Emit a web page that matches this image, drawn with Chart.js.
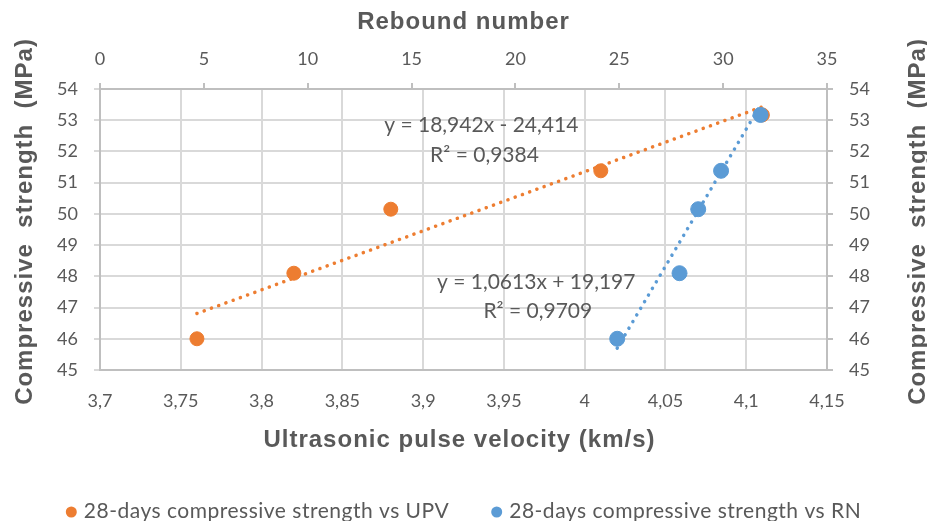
<!DOCTYPE html>
<html>
<head>
<meta charset="utf-8">
<script src="https://cdn.jsdelivr.net/npm/chart.js@4.4.1/dist/chart.umd.min.js"></script>
<style>
  html, body { margin: 0; padding: 0; background: #fff; }
  #wrap { width: 927px; height: 521px; }
</style>
</head>
<body>
<div id="wrap"><canvas id="chart" width="927" height="521"></canvas></div>
<script>
// Data
const upv = [3.76, 3.82, 3.88, 4.01, 4.11];          // km/s (bottom axis)
const rn = [24.9, 27.9, 28.8, 29.9, 31.8];           // rebound number (top axis)
const strength = [46.0, 48.1, 50.15, 51.38, 53.17];  // MPa
// trendline end points as drawn
const upvTrendX = [3.76, 4.11];
const upvTrendY = [46.81, 53.43];
const rnTrendX = [24.9, 31.7];
const rnTrendY = [45.7, 53.38];

const upvTicks = [3.7, 3.75, 3.8, 3.85, 3.9, 3.95, 4, 4.05, 4.1, 4.15];
const rnTicks = [0, 5, 10, 15, 20, 25, 30, 35];
const strengthTicks = [45, 46, 47, 48, 49, 50, 51, 52, 53, 54];

const ORANGE = "#ED7D31";
const BLUE = "#5B9BD5";
const GREY = "#595959";
const GRID = "#d9d9d9";
const FONT = "Lato, 'Open Sans', sans-serif";
const TITLE_FONT = "bold 24px 'Liberation Sans', Arial, sans-serif";

const fmt = (v) => String(Math.round(v * 100) / 100).replace(".", ",");
const zip = (xs, ys) => xs.map((x, i) => ({ x, y: ys[i] }));

// equation labels (anchored in data units of the UPV axis)
const eqLabels = [
  { x: 3.936, y: 52.85, text: "y = 18,942x - 24,414" },
  { x: 3.938, y: 51.89, text: "R² = 0,9384" },
  { x: 3.970, y: 47.82, text: "y = 1,0613x + 19,197" },
  { x: 3.971, y: 46.89, text: "R² = 0,9709" },
];

const legendItems = [
  { text: "28-days compressive strength vs UPV", color: ORANGE },
  { text: "28-days compressive strength vs RN", color: BLUE },
];

const axisTitles = {
  top: "Rebound number",
  bottom: "Ultrasonic pulse velocity (km/s)",
  left: "Compressive  strength  (MPa)",
  right: "Compressive  strength  (MPa)",
};

const textPlugin = {
  id: "texts",
  afterDatasetsDraw(chart) {
    const { ctx, scales } = chart;
    ctx.save();
    ctx.font = "21px " + FONT;
    ctx.fillStyle = GREY;
    ctx.textAlign = "center";
    ctx.textBaseline = "middle";
    eqLabels.forEach((l) => {
      ctx.fillText(l.text, scales.x.getPixelForValue(l.x), scales.y.getPixelForValue(l.y));
    });
    ctx.restore();
  },
  afterDraw(chart) {
    const { ctx, width, chartArea } = chart;
    const cx = (chartArea.left + chartArea.right) / 2;
    const cy = (chartArea.top + chartArea.bottom) / 2 - 8;

    // axis titles
    ctx.save();
    ctx.font = TITLE_FONT;
    ctx.letterSpacing = "1px";
    ctx.fillStyle = GREY;
    ctx.textAlign = "center";
    ctx.textBaseline = "middle";
    ctx.fillText(axisTitles.top, cx, 22);
    ctx.fillText(axisTitles.bottom, cx - 4, 440);
    [[axisTitles.left, 25], [axisTitles.right, 918]].forEach(([t, x]) => {
      ctx.save();
      ctx.translate(x, cy);
      ctx.rotate(-Math.PI / 2);
      ctx.fillText(t, 0, 0);
      ctx.restore();
    });
    ctx.restore();

    // legend
    ctx.save();
    ctx.font = "21px " + FONT;
    ctx.letterSpacing = "0.5px";
    ctx.textBaseline = "middle";
    const r = 5.5, gap = 7, between = 42;
    const widths = legendItems.map((it) => 2 * r + gap + ctx.measureText(it.text).width);
    const total = widths.reduce((a, b) => a + b, 0) + between;
    let x = (width - total) / 2;
    const y = 511;
    legendItems.forEach((it, i) => {
      ctx.fillStyle = it.color;
      ctx.beginPath();
      ctx.arc(x + r, y + 1, r, 0, Math.PI * 2);
      ctx.fill();
      ctx.fillStyle = GREY;
      ctx.fillText(it.text, x + 2 * r + gap, y);
      x += widths[i] + between;
    });
    ctx.restore();
  },
};

const tickFont = { family: FONT, size: 18 };

new Chart(document.getElementById("chart"), {
  type: "scatter",
  data: {
    datasets: [
      {
        label: "28-days compressive strength vs RN",
        data: zip(rn, strength),
        xAxisID: "x2",
        yAxisID: "y2",
        backgroundColor: BLUE,
        borderColor: BLUE,
        pointRadius: 7.5,
        pointHoverRadius: 7.5,
        order: 0,
      },
      {
        label: "28-days compressive strength vs UPV",
        data: zip(upv, strength),
        xAxisID: "x",
        yAxisID: "y",
        backgroundColor: ORANGE,
        borderColor: ORANGE,
        pointRadius: 7,
        pointHoverRadius: 7,
        order: 1,
      },
      {
        label: "trend UPV",
        data: zip(upvTrendX, upvTrendY),
        xAxisID: "x",
        yAxisID: "y",
        showLine: true,
        borderColor: ORANGE,
        borderWidth: 3.5,
        borderDash: [0.1, 7.6],
        borderCapStyle: "round",
        pointRadius: 0,
        order: 2,
      },
      {
        label: "trend RN",
        data: zip(rnTrendX, rnTrendY),
        xAxisID: "x2",
        yAxisID: "y2",
        showLine: true,
        borderColor: BLUE,
        borderWidth: 3.5,
        borderDash: [0.1, 7.6],
        borderCapStyle: "round",
        pointRadius: 0,
        order: 3,
      },
    ],
  },
  options: {
    responsive: false,
    animation: false,
    layout: { padding: { top: 0, right: 0, bottom: 40, left: 0 } },
    plugins: { legend: { display: false }, tooltip: { enabled: false } },
    scales: {
      x: {
        type: "linear",
        position: "bottom",
        min: upvTicks[0],
        max: upvTicks[upvTicks.length - 1],
        afterBuildTicks: (s) => { s.ticks = upvTicks.map((v) => ({ value: v })); },
        afterFit: (s) => { s.height = 111; },
        ticks: { callback: fmt, color: GREY, font: tickFont, padding: 20, maxRotation: 0 },
        grid: { color: GRID, lineWidth: 2, tickLength: 0 },
        border: { color: "#bfbfbf", width: 2 },
      },
      x2: {
        type: "linear",
        position: "top",
        min: rnTicks[0],
        max: rnTicks[rnTicks.length - 1],
        afterBuildTicks: (s) => { s.ticks = rnTicks.map((v) => ({ value: v })); },
        afterFit: (s) => { s.height = 89; },
        ticks: { callback: fmt, color: GREY, font: tickFont, padding: 13, maxRotation: 0 },
        grid: { drawOnChartArea: false, color: "#bfbfbf", lineWidth: 2, tickLength: 6 },
        border: { color: "#bfbfbf", width: 2 },
      },
      y: {
        type: "linear",
        position: "left",
        min: strengthTicks[0],
        max: strengthTicks[strengthTicks.length - 1],
        afterBuildTicks: (s) => { s.ticks = strengthTicks.map((v) => ({ value: v })); },
        afterFit: (s) => { s.width = 100; },
        ticks: { callback: fmt, color: GREY, font: tickFont, padding: 16 },
        grid: { color: GRID, lineWidth: 2, tickLength: 6 },
        border: { color: "#bfbfbf", width: 2 },
      },
      y2: {
        type: "linear",
        position: "right",
        min: strengthTicks[0],
        max: strengthTicks[strengthTicks.length - 1],
        afterBuildTicks: (s) => { s.ticks = strengthTicks.map((v) => ({ value: v })); },
        afterFit: (s) => { s.width = 100; },
        ticks: { callback: fmt, color: GREY, font: tickFont, padding: 16 },
        grid: { drawOnChartArea: false, color: "#bfbfbf", lineWidth: 2, tickLength: 6 },
        border: { color: "#bfbfbf", width: 2 },
      },
    },
  },
  plugins: [textPlugin],
});
</script>
</body>
</html>
